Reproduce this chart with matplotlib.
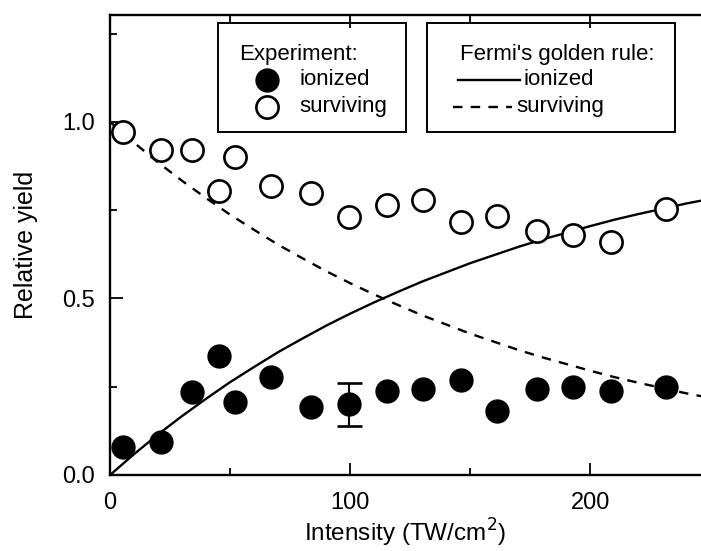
import matplotlib.pyplot as plt
from matplotlib.patches import Rectangle
from matplotlib.lines import Line2D
from matplotlib.ticker import MultipleLocator

plt.rcParams['font.family'] = ['Liberation Sans', 'DejaVu Sans']

# measured yields
intensity = [5.4, 21.0, 34.2, 45.3, 52.2, 67.1, 83.5, 99.3, 115.1, 130.1,
             146.0, 161.2, 177.6, 192.6, 208.5, 231.4]
ionized = [0.078, 0.094, 0.234, 0.337, 0.208, 0.277, 0.193, 0.200, 0.239, 0.243,
           0.269, 0.182, 0.243, 0.248, 0.238, 0.250]
surviving = [0.970, 0.921, 0.921, 0.805, 0.900, 0.817, 0.798, 0.730, 0.764, 0.779,
             0.715, 0.732, 0.691, 0.680, 0.659, 0.754]

# representative error bar
err_x = 99.3
err_y = 0.200
err_lo = 0.061
err_hi = 0.060

# Fermi's golden rule curves
fgr_x = [0, 10, 20, 30, 40, 50, 60, 70, 80, 90, 100, 110, 120, 130, 140, 150,
         160, 170, 180, 190, 200, 210, 220, 230, 240, 250]
fgr_surv = [1.000, 0.941, 0.885, 0.833, 0.784, 0.737, 0.694, 0.652, 0.614, 0.577,
            0.543, 0.511, 0.481, 0.452, 0.426, 0.400, 0.377, 0.354, 0.333, 0.314,
            0.295, 0.277, 0.261, 0.246, 0.231, 0.218]
fgr_ion = [0.000, 0.059, 0.115, 0.167, 0.216, 0.263, 0.306, 0.348, 0.386, 0.423,
           0.457, 0.489, 0.519, 0.548, 0.574, 0.600, 0.623, 0.646, 0.667, 0.686,
           0.705, 0.723, 0.739, 0.754, 0.769, 0.782]

fig = plt.figure(figsize=(7.01, 5.51), dpi=100)
ax = fig.add_axes([0.157, 0.138, 0.843, 0.835])

ax.plot(fgr_x, fgr_ion, color='black', lw=1.7, zorder=2)
ax.plot(fgr_x, fgr_surv, color='black', lw=1.7, ls=(0, (4, 3.5)), zorder=2)

ax.plot(intensity, ionized, 'o', ms=16.5, color='black', zorder=3)
ax.plot(intensity, surviving, 'o', ms=16, mfc='white', mec='black', mew=1.9, zorder=3)
ax.errorbar([err_x], [err_y], yerr=[[err_lo], [err_hi]], fmt='none',
            ecolor='black', elinewidth=1.5, capsize=9, capthick=1.9, zorder=2)

ax.set_xlim(0, 246)
ax.set_ylim(0, 1.303)
ax.xaxis.set_major_locator(MultipleLocator(100))
ax.xaxis.set_minor_locator(MultipleLocator(50))
ax.yaxis.set_major_locator(MultipleLocator(0.5))
ax.yaxis.set_minor_locator(MultipleLocator(0.25))
ax.xaxis.set_major_formatter(lambda v, p: f'{v:.0f}')
ax.yaxis.set_major_formatter(lambda v, p: f'{v:.1f}')

ax.spines['right'].set_visible(False)
for s in ['left', 'bottom', 'top']:
    ax.spines[s].set_linewidth(1.7)
ax.tick_params(which='both', direction='in', top=True, right=False, width=1.3,
               labelsize=17)
ax.tick_params(which='major', length=9)
ax.tick_params(which='minor', length=5)
ax.tick_params(axis='x', pad=12)
ax.tick_params(axis='y', pad=11)

ax.set_xlabel('Intensity (TW/cm$^2$)', fontsize=17.5, labelpad=2)
ax.set_ylabel('Relative yield', fontsize=18, labelpad=17)

# legend boxes
tr = ax.transAxes
ax.add_patch(Rectangle((0.183, 0.746), 0.318, 0.237, transform=tr, fill=False,
                       lw=1.4, ec='black', zorder=4))
ax.add_patch(Rectangle((0.536, 0.746), 0.420, 0.237, transform=tr, fill=False,
                       lw=1.4, ec='black', zorder=4))

ax.text(0.218, 0.913, 'Experiment:', transform=tr, fontsize=16, va='center')
ax.plot([0.266], [0.859], 'o', ms=16.5, color='black', transform=tr, clip_on=False)
ax.plot([0.266], [0.800], 'o', ms=16, mfc='white', mec='black', mew=1.9,
        transform=tr, clip_on=False)
ax.text(0.321, 0.859, 'ionized', transform=tr, fontsize=16, va='center')
ax.text(0.321, 0.800, 'surviving', transform=tr, fontsize=16, va='center')

ax.text(0.592, 0.913, "Fermi's golden rule:", transform=tr, fontsize=16, va='center')
ax.add_line(Line2D([0.589, 0.694], [0.859, 0.859], transform=tr, color='black', lw=1.7))
ax.add_line(Line2D([0.580, 0.680], [0.800, 0.800], transform=tr, color='black', lw=1.7,
                   ls=(0, (4, 3.5))))
ax.text(0.699, 0.859, 'ionized', transform=tr, fontsize=16, va='center')
ax.text(0.687, 0.800, 'surviving', transform=tr, fontsize=16, va='center')

fig.savefig('out.png', dpi=100)
